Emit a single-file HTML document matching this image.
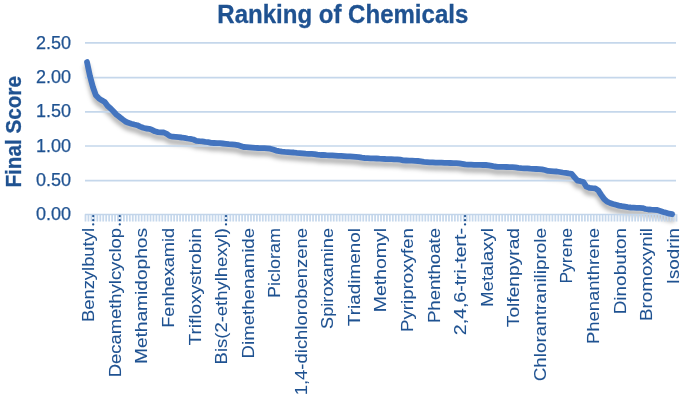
<!DOCTYPE html>
<html><head><meta charset="utf-8"><style>
html,body{margin:0;padding:0;background:#fff;}
body{width:685px;height:396px;overflow:hidden;}
svg{display:block;will-change:transform;}
text{font-family:"Liberation Sans",sans-serif;}
</style></head><body>
<svg width="685" height="396" viewBox="0 0 685 396">
<defs>
<filter id="sh" x="-5%" y="-20%" width="110%" height="160%">
<feGaussianBlur in="SourceAlpha" stdDeviation="2"/>
<feOffset dx="0" dy="5" result="b"/>
<feFlood flood-color="#000" flood-opacity="0.3"/>
<feComposite in2="b" operator="in"/>
</filter>
</defs>
<rect width="685" height="396" fill="#fff"/>
<polyline points="87.00,62.00 89.95,76.00 92.91,87.00 95.86,95.30 98.82,98.30 101.78,100.30 104.73,102.00 107.69,106.00 110.64,108.50 113.59,111.50 116.55,114.70 119.50,116.90 122.46,119.30 125.41,121.50 128.37,122.80 131.32,123.70 134.28,124.50 137.24,125.20 140.19,126.60 143.15,127.80 146.10,128.50 149.06,128.80 152.01,129.80 154.97,131.30 157.92,132.10 160.88,132.30 163.83,132.50 166.78,133.90 169.74,136.00 172.69,136.70 175.65,136.90 178.61,137.20 181.56,137.50 184.51,137.90 187.47,138.50 190.43,138.90 193.38,139.50 196.34,140.80 199.29,141.20 202.25,141.30 205.20,141.80 208.16,142.20 211.11,142.80 214.06,143.00 217.02,143.20 219.97,143.20 222.93,143.50 225.88,143.80 228.84,144.20 231.80,144.40 234.75,144.70 237.71,145.10 240.66,146.00 243.62,147.00 246.57,147.20 249.53,147.40 252.48,147.60 255.44,147.80 258.39,148.00 261.35,148.10 264.30,148.10 267.25,148.30 270.21,148.70 273.16,149.60 276.12,150.60 279.08,151.20 282.03,151.60 284.99,151.90 287.94,152.10 290.89,152.30 293.85,152.50 296.81,152.90 299.76,153.10 302.72,153.40 305.67,153.70 308.62,153.80 311.58,153.90 314.53,154.10 317.49,154.60 320.44,155.00 323.40,155.00 326.36,155.20 329.31,155.30 332.26,155.40 335.22,155.60 338.18,155.80 341.13,155.90 344.08,156.10 347.04,156.30 350.00,156.40 352.95,156.60 355.91,156.80 358.86,157.10 361.81,157.70 364.77,158.00 367.73,158.10 370.68,158.30 373.63,158.40 376.59,158.50 379.55,158.70 382.50,158.80 385.45,159.00 388.41,159.10 391.37,159.20 394.32,159.40 397.28,159.40 400.23,159.70 403.19,160.30 406.14,160.50 409.10,160.70 412.05,160.70 415.00,160.90 417.96,161.00 420.92,161.30 423.87,161.90 426.82,162.10 429.78,162.30 432.74,162.40 435.69,162.60 438.64,162.70 441.60,162.70 444.56,162.90 447.51,162.90 450.47,163.00 453.42,163.10 456.38,163.10 459.33,163.30 462.29,163.80 465.24,164.40 468.19,164.60 471.15,164.70 474.11,164.80 477.06,164.80 480.01,164.80 482.97,165.00 485.93,165.00 488.88,165.30 491.84,165.90 494.79,166.50 497.75,166.80 500.70,166.80 503.66,166.90 506.61,167.00 509.56,167.10 512.52,167.20 515.48,167.40 518.43,167.90 521.38,168.20 524.34,168.40 527.30,168.40 530.25,168.70 533.20,168.90 536.16,169.00 539.12,169.20 542.07,169.40 545.03,170.00 547.98,170.90 550.93,171.10 553.89,171.30 556.85,171.50 559.80,172.00 562.75,172.50 565.71,172.90 568.66,173.40 571.62,173.80 574.58,177.30 577.53,180.70 580.49,181.20 583.44,182.00 586.39,186.60 589.35,187.80 592.31,188.10 595.26,188.30 598.22,190.30 601.17,194.80 604.12,199.00 607.08,201.60 610.03,203.00 612.99,204.00 615.95,204.80 618.90,205.60 621.86,206.20 624.81,206.70 627.76,207.20 630.72,207.50 633.68,207.60 636.63,207.80 639.59,207.90 642.54,208.10 645.50,209.00 648.45,209.50 651.40,209.70 654.36,209.80 657.32,210.00 660.27,210.90 663.23,211.90 666.18,212.80 669.13,213.70 672.09,214.20" fill="none" stroke="#000" stroke-width="5.8" stroke-linejoin="round" stroke-linecap="round" filter="url(#sh)"/>
<g stroke="#C5D7EB" stroke-width="1.7"><line x1="85" x2="676" y1="42.9" y2="42.9"/><line x1="85" x2="676" y1="77.6" y2="77.6"/><line x1="85" x2="676" y1="111.8" y2="111.8"/><line x1="85" x2="676" y1="146.0" y2="146.0"/><line x1="85" x2="676" y1="180.6" y2="180.6"/></g>
<path d="M85.50 214.3V221.4M88.45 214.3V221.4M91.41 214.3V221.4M94.36 214.3V221.4M97.32 214.3V221.4M100.28 214.3V221.4M103.23 214.3V221.4M106.19 214.3V221.4M109.14 214.3V221.4M112.09 214.3V221.4M115.05 214.3V221.4M118.00 214.3V221.4M120.96 214.3V221.4M123.91 214.3V221.4M126.87 214.3V221.4M129.82 214.3V221.4M132.78 214.3V221.4M135.74 214.3V221.4M138.69 214.3V221.4M141.65 214.3V221.4M144.60 214.3V221.4M147.56 214.3V221.4M150.51 214.3V221.4M153.47 214.3V221.4M156.42 214.3V221.4M159.38 214.3V221.4M162.33 214.3V221.4M165.28 214.3V221.4M168.24 214.3V221.4M171.19 214.3V221.4M174.15 214.3V221.4M177.11 214.3V221.4M180.06 214.3V221.4M183.01 214.3V221.4M185.97 214.3V221.4M188.93 214.3V221.4M191.88 214.3V221.4M194.84 214.3V221.4M197.79 214.3V221.4M200.75 214.3V221.4M203.70 214.3V221.4M206.66 214.3V221.4M209.61 214.3V221.4M212.56 214.3V221.4M215.52 214.3V221.4M218.47 214.3V221.4M221.43 214.3V221.4M224.38 214.3V221.4M227.34 214.3V221.4M230.30 214.3V221.4M233.25 214.3V221.4M236.21 214.3V221.4M239.16 214.3V221.4M242.12 214.3V221.4M245.07 214.3V221.4M248.03 214.3V221.4M250.98 214.3V221.4M253.94 214.3V221.4M256.89 214.3V221.4M259.85 214.3V221.4M262.80 214.3V221.4M265.75 214.3V221.4M268.71 214.3V221.4M271.66 214.3V221.4M274.62 214.3V221.4M277.58 214.3V221.4M280.53 214.3V221.4M283.49 214.3V221.4M286.44 214.3V221.4M289.39 214.3V221.4M292.35 214.3V221.4M295.31 214.3V221.4M298.26 214.3V221.4M301.22 214.3V221.4M304.17 214.3V221.4M307.12 214.3V221.4M310.08 214.3V221.4M313.03 214.3V221.4M315.99 214.3V221.4M318.94 214.3V221.4M321.90 214.3V221.4M324.86 214.3V221.4M327.81 214.3V221.4M330.76 214.3V221.4M333.72 214.3V221.4M336.68 214.3V221.4M339.63 214.3V221.4M342.58 214.3V221.4M345.54 214.3V221.4M348.50 214.3V221.4M351.45 214.3V221.4M354.41 214.3V221.4M357.36 214.3V221.4M360.31 214.3V221.4M363.27 214.3V221.4M366.23 214.3V221.4M369.18 214.3V221.4M372.13 214.3V221.4M375.09 214.3V221.4M378.05 214.3V221.4M381.00 214.3V221.4M383.95 214.3V221.4M386.91 214.3V221.4M389.87 214.3V221.4M392.82 214.3V221.4M395.78 214.3V221.4M398.73 214.3V221.4M401.69 214.3V221.4M404.64 214.3V221.4M407.60 214.3V221.4M410.55 214.3V221.4M413.50 214.3V221.4M416.46 214.3V221.4M419.42 214.3V221.4M422.37 214.3V221.4M425.32 214.3V221.4M428.28 214.3V221.4M431.24 214.3V221.4M434.19 214.3V221.4M437.14 214.3V221.4M440.10 214.3V221.4M443.06 214.3V221.4M446.01 214.3V221.4M448.97 214.3V221.4M451.92 214.3V221.4M454.88 214.3V221.4M457.83 214.3V221.4M460.79 214.3V221.4M463.74 214.3V221.4M466.69 214.3V221.4M469.65 214.3V221.4M472.61 214.3V221.4M475.56 214.3V221.4M478.51 214.3V221.4M481.47 214.3V221.4M484.43 214.3V221.4M487.38 214.3V221.4M490.34 214.3V221.4M493.29 214.3V221.4M496.25 214.3V221.4M499.20 214.3V221.4M502.16 214.3V221.4M505.11 214.3V221.4M508.06 214.3V221.4M511.02 214.3V221.4M513.98 214.3V221.4M516.93 214.3V221.4M519.88 214.3V221.4M522.84 214.3V221.4M525.80 214.3V221.4M528.75 214.3V221.4M531.70 214.3V221.4M534.66 214.3V221.4M537.62 214.3V221.4M540.57 214.3V221.4M543.53 214.3V221.4M546.48 214.3V221.4M549.43 214.3V221.4M552.39 214.3V221.4M555.35 214.3V221.4M558.30 214.3V221.4M561.25 214.3V221.4M564.21 214.3V221.4M567.16 214.3V221.4M570.12 214.3V221.4M573.08 214.3V221.4M576.03 214.3V221.4M578.99 214.3V221.4M581.94 214.3V221.4M584.89 214.3V221.4M587.85 214.3V221.4M590.81 214.3V221.4M593.76 214.3V221.4M596.72 214.3V221.4M599.67 214.3V221.4M602.62 214.3V221.4M605.58 214.3V221.4M608.53 214.3V221.4M611.49 214.3V221.4M614.45 214.3V221.4M617.40 214.3V221.4M620.36 214.3V221.4M623.31 214.3V221.4M626.26 214.3V221.4M629.22 214.3V221.4M632.18 214.3V221.4M635.13 214.3V221.4M638.09 214.3V221.4M641.04 214.3V221.4M644.00 214.3V221.4M646.95 214.3V221.4M649.90 214.3V221.4M652.86 214.3V221.4M655.82 214.3V221.4M658.77 214.3V221.4M661.73 214.3V221.4M664.68 214.3V221.4M667.63 214.3V221.4M670.59 214.3V221.4M673.54 214.3V221.4M676.50 214.3V221.4" stroke="#C6D8EC" stroke-width="1.75" fill="none"/>
<line x1="85" x2="676" y1="214.5" y2="214.5" stroke="#C3D5EA" stroke-width="1.4"/>
<polyline points="87.00,62.00 89.95,76.00 92.91,87.00 95.86,95.30 98.82,98.30 101.78,100.30 104.73,102.00 107.69,106.00 110.64,108.50 113.59,111.50 116.55,114.70 119.50,116.90 122.46,119.30 125.41,121.50 128.37,122.80 131.32,123.70 134.28,124.50 137.24,125.20 140.19,126.60 143.15,127.80 146.10,128.50 149.06,128.80 152.01,129.80 154.97,131.30 157.92,132.10 160.88,132.30 163.83,132.50 166.78,133.90 169.74,136.00 172.69,136.70 175.65,136.90 178.61,137.20 181.56,137.50 184.51,137.90 187.47,138.50 190.43,138.90 193.38,139.50 196.34,140.80 199.29,141.20 202.25,141.30 205.20,141.80 208.16,142.20 211.11,142.80 214.06,143.00 217.02,143.20 219.97,143.20 222.93,143.50 225.88,143.80 228.84,144.20 231.80,144.40 234.75,144.70 237.71,145.10 240.66,146.00 243.62,147.00 246.57,147.20 249.53,147.40 252.48,147.60 255.44,147.80 258.39,148.00 261.35,148.10 264.30,148.10 267.25,148.30 270.21,148.70 273.16,149.60 276.12,150.60 279.08,151.20 282.03,151.60 284.99,151.90 287.94,152.10 290.89,152.30 293.85,152.50 296.81,152.90 299.76,153.10 302.72,153.40 305.67,153.70 308.62,153.80 311.58,153.90 314.53,154.10 317.49,154.60 320.44,155.00 323.40,155.00 326.36,155.20 329.31,155.30 332.26,155.40 335.22,155.60 338.18,155.80 341.13,155.90 344.08,156.10 347.04,156.30 350.00,156.40 352.95,156.60 355.91,156.80 358.86,157.10 361.81,157.70 364.77,158.00 367.73,158.10 370.68,158.30 373.63,158.40 376.59,158.50 379.55,158.70 382.50,158.80 385.45,159.00 388.41,159.10 391.37,159.20 394.32,159.40 397.28,159.40 400.23,159.70 403.19,160.30 406.14,160.50 409.10,160.70 412.05,160.70 415.00,160.90 417.96,161.00 420.92,161.30 423.87,161.90 426.82,162.10 429.78,162.30 432.74,162.40 435.69,162.60 438.64,162.70 441.60,162.70 444.56,162.90 447.51,162.90 450.47,163.00 453.42,163.10 456.38,163.10 459.33,163.30 462.29,163.80 465.24,164.40 468.19,164.60 471.15,164.70 474.11,164.80 477.06,164.80 480.01,164.80 482.97,165.00 485.93,165.00 488.88,165.30 491.84,165.90 494.79,166.50 497.75,166.80 500.70,166.80 503.66,166.90 506.61,167.00 509.56,167.10 512.52,167.20 515.48,167.40 518.43,167.90 521.38,168.20 524.34,168.40 527.30,168.40 530.25,168.70 533.20,168.90 536.16,169.00 539.12,169.20 542.07,169.40 545.03,170.00 547.98,170.90 550.93,171.10 553.89,171.30 556.85,171.50 559.80,172.00 562.75,172.50 565.71,172.90 568.66,173.40 571.62,173.80 574.58,177.30 577.53,180.70 580.49,181.20 583.44,182.00 586.39,186.60 589.35,187.80 592.31,188.10 595.26,188.30 598.22,190.30 601.17,194.80 604.12,199.00 607.08,201.60 610.03,203.00 612.99,204.00 615.95,204.80 618.90,205.60 621.86,206.20 624.81,206.70 627.76,207.20 630.72,207.50 633.68,207.60 636.63,207.80 639.59,207.90 642.54,208.10 645.50,209.00 648.45,209.50 651.40,209.70 654.36,209.80 657.32,210.00 660.27,210.90 663.23,211.90 666.18,212.80 669.13,213.70 672.09,214.20" fill="none" stroke="#4374BF" stroke-width="5.8" stroke-linejoin="round" stroke-linecap="round"/>
<g fill="#1F5291" stroke="#1F5291" stroke-width="0.25" font-size="18"><text x="71" y="48.7" text-anchor="end">2.50</text><text x="71" y="83.0" text-anchor="end">2.00</text><text x="71" y="117.3" text-anchor="end">1.50</text><text x="71" y="151.6" text-anchor="end">1.00</text><text x="71" y="186.0" text-anchor="end">0.50</text><text x="71" y="220.3" text-anchor="end">0.00</text></g>
<g fill="#1F5291" stroke="#1F5291" stroke-width="0.08" font-size="16.9"><text transform="translate(94.30,322.10) rotate(-90)" textLength="94.1" lengthAdjust="spacingAndGlyphs">Benzylbutyl</text><text transform="translate(120.86,377.20) rotate(-90)" textLength="149.2" lengthAdjust="spacingAndGlyphs">Decamethylcyclop</text><text transform="translate(147.42,364.00) rotate(-90)" textLength="136.0" lengthAdjust="spacingAndGlyphs">Methamidophos</text><text transform="translate(173.98,327.70) rotate(-90)" textLength="99.7" lengthAdjust="spacingAndGlyphs">Fenhexamid</text><text transform="translate(200.54,345.50) rotate(-90)" textLength="117.5" lengthAdjust="spacingAndGlyphs">Trifloxystrobin</text><text transform="translate(227.10,364.40) rotate(-90)" textLength="136.4" lengthAdjust="spacingAndGlyphs">Bis(2-ethylhexyl)</text><text transform="translate(253.66,358.40) rotate(-90)" textLength="130.4" lengthAdjust="spacingAndGlyphs">Dimethenamide</text><text transform="translate(280.22,297.90) rotate(-90)" textLength="69.9" lengthAdjust="spacingAndGlyphs">Picloram</text><text transform="translate(306.78,395.30) rotate(-90)" textLength="167.3" lengthAdjust="spacingAndGlyphs">1,4-dichlorobenzene</text><text transform="translate(333.34,328.90) rotate(-90)" textLength="100.9" lengthAdjust="spacingAndGlyphs">Spiroxamine</text><text transform="translate(359.90,326.20) rotate(-90)" textLength="98.2" lengthAdjust="spacingAndGlyphs">Triadimenol</text><text transform="translate(386.46,312.20) rotate(-90)" textLength="84.2" lengthAdjust="spacingAndGlyphs">Methomyl</text><text transform="translate(413.02,332.00) rotate(-90)" textLength="104.0" lengthAdjust="spacingAndGlyphs">Pyriproxyfen</text><text transform="translate(439.58,323.10) rotate(-90)" textLength="95.1" lengthAdjust="spacingAndGlyphs">Phenthoate</text><text transform="translate(466.14,335.20) rotate(-90)" textLength="107.2" lengthAdjust="spacingAndGlyphs">2,4,6-tri-tert-</text><text transform="translate(492.70,307.10) rotate(-90)" textLength="79.1" lengthAdjust="spacingAndGlyphs">Metalaxyl</text><text transform="translate(519.26,327.20) rotate(-90)" textLength="99.2" lengthAdjust="spacingAndGlyphs">Tolfenpyrad</text><text transform="translate(545.82,381.30) rotate(-90)" textLength="153.3" lengthAdjust="spacingAndGlyphs">Chlorantraniliprole</text><text transform="translate(572.38,283.60) rotate(-90)" textLength="55.6" lengthAdjust="spacingAndGlyphs">Pyrene</text><text transform="translate(598.94,344.10) rotate(-90)" textLength="116.1" lengthAdjust="spacingAndGlyphs">Phenanthrene</text><text transform="translate(625.50,314.30) rotate(-90)" textLength="86.3" lengthAdjust="spacingAndGlyphs">Dinobuton</text><text transform="translate(652.06,321.00) rotate(-90)" textLength="93.0" lengthAdjust="spacingAndGlyphs">Bromoxynil</text><text transform="translate(678.62,284.20) rotate(-90)" textLength="56.2" lengthAdjust="spacingAndGlyphs">Isodrin</text></g>
<g fill="#1F5291"><circle cx="93.20" cy="216.1" r="1.15"/><circle cx="93.20" cy="220.2" r="1.15"/><circle cx="93.20" cy="224.4" r="1.15"/><circle cx="119.76" cy="216.1" r="1.15"/><circle cx="119.76" cy="220.2" r="1.15"/><circle cx="119.76" cy="224.4" r="1.15"/><circle cx="226.00" cy="216.1" r="1.15"/><circle cx="226.00" cy="220.2" r="1.15"/><circle cx="226.00" cy="224.4" r="1.15"/><circle cx="465.04" cy="216.1" r="1.15"/><circle cx="465.04" cy="220.2" r="1.15"/><circle cx="465.04" cy="224.4" r="1.15"/></g>
<text x="217.3" y="23.0" fill="#1F5291" stroke="#1F5291" stroke-width="0.3" font-size="25.2" font-weight="bold" textLength="251" lengthAdjust="spacingAndGlyphs">Ranking of Chemicals</text>
<text transform="translate(21.0,187.6) rotate(-90)" fill="#1F5291" stroke="#1F5291" stroke-width="0.3" font-size="22.4" font-weight="bold" textLength="111.5" lengthAdjust="spacingAndGlyphs">Final Score</text>
</svg>
</body></html>
